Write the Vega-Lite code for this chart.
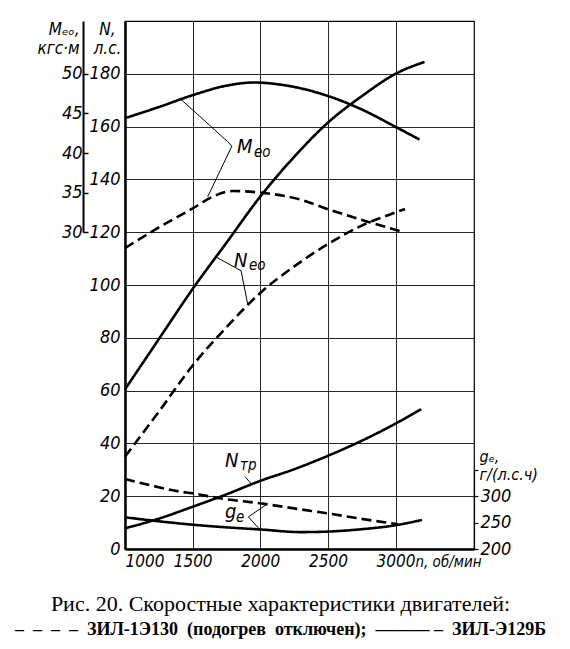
{
  "$schema": "https://vega.github.io/schema/vega-lite/v6.json",
  "width": 349,
  "height": 528,
  "autosize": {"type": "none"},
  "padding": {"left": 125, "top": 21, "right": 96, "bottom": 100},
  "background": "white",
  "config": {
    "view": {"stroke": "black", "strokeWidth": 1.2},
    "font": "Liberation Sans Narrow, DejaVu Sans Condensed, Liberation Sans, sans-serif"
  },
  "title": {
    "text": "Рис. 20. Скоростные характеристики двигателей:",
    "subtitle": "–\u00a0\u00a0–\u00a0\u00a0–\u00a0\u00a0–\u00a0\u00a0ЗИЛ-1Э130\u00a0\u00a0(подогрев\u00a0\u00a0отключен);\u00a0\u00a0———\u00a0–\u00a0\u00a0ЗИЛ-Э129Б",
    "orient": "bottom",
    "anchor": "middle",
    "offset": 25,
    "dx": -19,
    "font": "Liberation Serif",
    "fontSize": 22,
    "fontWeight": "normal",
    "color": "black",
    "subtitleFont": "Liberation Serif",
    "subtitleFontSize": 18,
    "subtitleFontWeight": "bold",
    "subtitleColor": "black",
    "subtitlePadding": 5
  },
  "datasets": {
    "power": [
      {"curve": "Neo", "engine": "ЗИЛ-Э129Б", "n": 1000, "N": 60.5},
      {"curve": "Neo", "engine": "ЗИЛ-Э129Б", "n": 1250, "N": 79.5},
      {"curve": "Neo", "engine": "ЗИЛ-Э129Б", "n": 1500, "N": 98.5},
      {"curve": "Neo", "engine": "ЗИЛ-Э129Б", "n": 1750, "N": 116},
      {"curve": "Neo", "engine": "ЗИЛ-Э129Б", "n": 2000, "N": 133.5},
      {"curve": "Neo", "engine": "ЗИЛ-Э129Б", "n": 2250, "N": 148.5},
      {"curve": "Neo", "engine": "ЗИЛ-Э129Б", "n": 2500, "N": 161.5},
      {"curve": "Neo", "engine": "ЗИЛ-Э129Б", "n": 2750, "N": 171.5},
      {"curve": "Neo", "engine": "ЗИЛ-Э129Б", "n": 3000, "N": 180},
      {"curve": "Neo", "engine": "ЗИЛ-Э129Б", "n": 3214, "N": 184.5},
      {"curve": "Neo130", "engine": "ЗИЛ-1Э130", "n": 1000, "N": 35},
      {"curve": "Neo130", "engine": "ЗИЛ-1Э130", "n": 1250, "N": 52},
      {"curve": "Neo130", "engine": "ЗИЛ-1Э130", "n": 1500, "N": 69.5},
      {"curve": "Neo130", "engine": "ЗИЛ-1Э130", "n": 1750, "N": 84},
      {"curve": "Neo130", "engine": "ЗИЛ-1Э130", "n": 2000, "N": 97},
      {"curve": "Neo130", "engine": "ЗИЛ-1Э130", "n": 2250, "N": 107},
      {"curve": "Neo130", "engine": "ЗИЛ-1Э130", "n": 2500, "N": 115.5},
      {"curve": "Neo130", "engine": "ЗИЛ-1Э130", "n": 2750, "N": 122.5},
      {"curve": "Neo130", "engine": "ЗИЛ-1Э130", "n": 3000, "N": 127.5},
      {"curve": "Neo130", "engine": "ЗИЛ-1Э130", "n": 3070, "N": 128.8},
      {"curve": "Ntr", "engine": "ЗИЛ-Э129Б", "n": 1000, "N": 7.8},
      {"curve": "Ntr", "engine": "ЗИЛ-Э129Б", "n": 1250, "N": 11.5},
      {"curve": "Ntr", "engine": "ЗИЛ-Э129Б", "n": 1500, "N": 16},
      {"curve": "Ntr", "engine": "ЗИЛ-Э129Б", "n": 1750, "N": 20.7},
      {"curve": "Ntr", "engine": "ЗИЛ-Э129Б", "n": 2000, "N": 25.8},
      {"curve": "Ntr", "engine": "ЗИЛ-Э129Б", "n": 2250, "N": 30.2},
      {"curve": "Ntr", "engine": "ЗИЛ-Э129Б", "n": 2500, "N": 35.3},
      {"curve": "Ntr", "engine": "ЗИЛ-Э129Б", "n": 2750, "N": 41},
      {"curve": "Ntr", "engine": "ЗИЛ-Э129Б", "n": 3000, "N": 47.5},
      {"curve": "Ntr", "engine": "ЗИЛ-Э129Б", "n": 3190, "N": 53}
    ],
    "torque": [
      {"curve": "Meo", "engine": "ЗИЛ-Э129Б", "n": 1000, "M": 44.4},
      {"curve": "Meo", "engine": "ЗИЛ-Э129Б", "n": 1250, "M": 45.8},
      {"curve": "Meo", "engine": "ЗИЛ-Э129Б", "n": 1500, "M": 47.3},
      {"curve": "Meo", "engine": "ЗИЛ-Э129Б", "n": 1750, "M": 48.5},
      {"curve": "Meo", "engine": "ЗИЛ-Э129Б", "n": 1950, "M": 48.9},
      {"curve": "Meo", "engine": "ЗИЛ-Э129Б", "n": 2200, "M": 48.5},
      {"curve": "Meo", "engine": "ЗИЛ-Э129Б", "n": 2500, "M": 47.2},
      {"curve": "Meo", "engine": "ЗИЛ-Э129Б", "n": 2750, "M": 45.5},
      {"curve": "Meo", "engine": "ЗИЛ-Э129Б", "n": 3000, "M": 43.3},
      {"curve": "Meo", "engine": "ЗИЛ-Э129Б", "n": 3177, "M": 41.7},
      {"curve": "Meo130", "engine": "ЗИЛ-1Э130", "n": 1000, "M": 28.0},
      {"curve": "Meo130", "engine": "ЗИЛ-1Э130", "n": 1250, "M": 30.6},
      {"curve": "Meo130", "engine": "ЗИЛ-1Э130", "n": 1500, "M": 33.0},
      {"curve": "Meo130", "engine": "ЗИЛ-1Э130", "n": 1650, "M": 34.5},
      {"curve": "Meo130", "engine": "ЗИЛ-1Э130", "n": 1800, "M": 35.2},
      {"curve": "Meo130", "engine": "ЗИЛ-1Э130", "n": 2000, "M": 35.0},
      {"curve": "Meo130", "engine": "ЗИЛ-1Э130", "n": 2300, "M": 34.1},
      {"curve": "Meo130", "engine": "ЗИЛ-1Э130", "n": 2500, "M": 32.9},
      {"curve": "Meo130", "engine": "ЗИЛ-1Э130", "n": 2800, "M": 31.3},
      {"curve": "Meo130", "engine": "ЗИЛ-1Э130", "n": 3060, "M": 30.0}
    ],
    "fuel": [
      {"curve": "ge", "engine": "ЗИЛ-Э129Б", "n": 1000, "g": 260},
      {"curve": "ge", "engine": "ЗИЛ-Э129Б", "n": 1250, "g": 252.5},
      {"curve": "ge", "engine": "ЗИЛ-Э129Б", "n": 1500, "g": 246},
      {"curve": "ge", "engine": "ЗИЛ-Э129Б", "n": 1750, "g": 241},
      {"curve": "ge", "engine": "ЗИЛ-Э129Б", "n": 2000, "g": 237},
      {"curve": "ge", "engine": "ЗИЛ-Э129Б", "n": 2300, "g": 232},
      {"curve": "ge", "engine": "ЗИЛ-Э129Б", "n": 2500, "g": 233},
      {"curve": "ge", "engine": "ЗИЛ-Э129Б", "n": 2750, "g": 237.5},
      {"curve": "ge", "engine": "ЗИЛ-Э129Б", "n": 3000, "g": 245},
      {"curve": "ge", "engine": "ЗИЛ-Э129Б", "n": 3195, "g": 255},
      {"curve": "ge130", "engine": "ЗИЛ-1Э130", "n": 1000, "g": 332.5},
      {"curve": "ge130", "engine": "ЗИЛ-1Э130", "n": 1200, "g": 320},
      {"curve": "ge130", "engine": "ЗИЛ-1Э130", "n": 1400, "g": 309},
      {"curve": "ge130", "engine": "ЗИЛ-1Э130", "n": 1500, "g": 305.5},
      {"curve": "ge130", "engine": "ЗИЛ-1Э130", "n": 1700, "g": 296},
      {"curve": "ge130", "engine": "ЗИЛ-1Э130", "n": 2000, "g": 286.5},
      {"curve": "ge130", "engine": "ЗИЛ-1Э130", "n": 2300, "g": 275},
      {"curve": "ge130", "engine": "ЗИЛ-1Э130", "n": 2500, "g": 267.5},
      {"curve": "ge130", "engine": "ЗИЛ-1Э130", "n": 2750, "g": 257},
      {"curve": "ge130", "engine": "ЗИЛ-1Э130", "n": 3020, "g": 247}
    ],
    "leaders": [
      {"leader": "M", "i": 1, "n": 1414, "N": 170.3},
      {"leader": "M", "i": 2, "n": 1759, "N": 154.3},
      {"leader": "M", "i": 3, "n": 1790, "N": 152.6},
      {"leader": "M", "i": 4, "n": 1611, "N": 133.4},
      {"leader": "Neo", "i": 1, "n": 1673, "N": 110.6},
      {"leader": "Neo", "i": 2, "n": 1858, "N": 105.4},
      {"leader": "Neo", "i": 3, "n": 1908, "N": 92.5},
      {"leader": "Ntr", "i": 1, "n": 1888, "N": 27.4},
      {"leader": "Ntr", "i": 2, "n": 1937, "N": 24.4},
      {"leader": "ge", "i": 1, "n": 2048, "N": 16.9},
      {"leader": "ge", "i": 2, "n": 1912, "N": 12.2},
      {"leader": "ge", "i": 3, "n": 1998, "N": 7.3}
    ],
    "labels": [
      {"part": "main", "text": "M", "n": 1828, "N": 150},
      {"part": "sub", "text": "ео", "n": 1954, "N": 148.6},
      {"part": "main", "text": "N", "n": 1806, "N": 106.8},
      {"part": "sub", "text": "ео", "n": 1917, "N": 105.8},
      {"part": "main", "text": "N", "n": 1740, "N": 31.1},
      {"part": "sub", "text": "тр", "n": 1851, "N": 30.0},
      {"part": "main", "text": "g", "n": 1740, "N": 11.6},
      {"part": "sub", "text": "e", "n": 1821, "N": 10.4}
    ]
  },
  "encoding": {
    "x": {
      "field": "n",
      "type": "quantitative",
      "scale": {"domain": [1000, 3580], "nice": false, "zero": false},
      "axis": {
        "values": [1000, 1500, 2000, 2500, 3000],
        "format": "d",
        "labelOverlap": false,
        "grid": true,
        "gridColor": "black",
        "gridWidth": 1,
        "gridOpacity": 0.85,
        "tickSize": 0,
        "labelPadding": 4,
        "labelFontSize": 17,
        "labelFontStyle": "italic",
        "labelColor": "black",
        "labelAlign": {"condition": {"test": "datum.value === 1000", "value": "left"}, "value": "center"},
        "labelDx": -6,
        "domainColor": "black",
        "domainWidth": 2.5,
        "title": "n, об/мин",
        "titleX": 290,
        "titleY": 5,
        "titleAlign": "left",
        "titleBaseline": "top",
        "titleFontSize": 15,
        "titleFontStyle": "italic",
        "titleFontWeight": "normal",
        "titleColor": "black"
      }
    }
  },
  "layer": [
    {
      "layer": [
        {
          "data": {"name": "power"},
          "mark": {"type": "line", "color": "black", "strokeWidth": 2.6, "interpolate": "monotone"},
          "encoding": {
            "y": {
              "field": "N",
              "type": "quantitative",
              "scale": {"domain": [0, 200], "nice": false},
              "axis": {
                "values": [0, 20, 40, 60, 80, 100, 120, 140, 160, 180],
                "labelOverlap": false,
                "grid": true,
                "gridColor": "black",
                "gridWidth": 1,
                "gridOpacity": 0.85,
                "tickSize": 0,
                "labelPadding": 5,
                "labelFontSize": 18,
                "labelFontStyle": "italic",
                "labelColor": "black",
                "labelDy": 2,
                "domainColor": "black",
                "domainWidth": 2.5,
                "title": ["N,", "л.с."],
                "titleAngle": 0,
                "titleAlign": "center",
                "titleBaseline": "top",
                "titleX": -18,
                "titleY": 0,
                "titleFontSize": 17,
                "titleFontStyle": "italic",
                "titleFontWeight": "normal",
                "titleColor": "black",
                "titleLineHeight": 19
              }
            },
            "detail": {"field": "curve"},
            "strokeDash": {
              "field": "engine",
              "type": "nominal",
              "scale": {"domain": ["ЗИЛ-Э129Б", "ЗИЛ-1Э130"], "range": [[1, 0], [10, 5]]},
              "legend": null
            }
          }
        },
        {
          "data": {"name": "leaders"},
          "mark": {"type": "line", "color": "black", "strokeWidth": 1},
          "encoding": {
            "y": {"field": "N", "type": "quantitative"},
            "detail": {"field": "leader"},
            "order": {"field": "i"}
          }
        },
        {
          "data": {"name": "labels"},
          "transform": [{"filter": "datum.part === 'main'"}],
          "mark": {"type": "text", "align": "left", "baseline": "alphabetic", "fontSize": 20, "fontStyle": "italic", "color": "black"},
          "encoding": {
            "y": {"field": "N", "type": "quantitative"},
            "text": {"field": "text"}
          }
        },
        {
          "data": {"name": "labels"},
          "transform": [{"filter": "datum.part === 'sub'"}],
          "mark": {"type": "text", "align": "left", "baseline": "alphabetic", "fontSize": 15, "fontStyle": "italic", "color": "black"},
          "encoding": {
            "y": {"field": "N", "type": "quantitative"},
            "text": {"field": "text"}
          }
        }
      ]
    },
    {
      "data": {"name": "torque"},
      "mark": {"type": "line", "color": "black", "strokeWidth": 2.6, "interpolate": "monotone"},
      "encoding": {
        "y": {
          "field": "M",
          "type": "quantitative",
          "scale": {"domain": [30, 56.667], "range": [211.2, 0], "nice": false, "zero": false},
          "axis": {
            "orient": "left",
            "offset": 42,
            "values": [30, 35, 40, 45, 50],
            "labelOverlap": false,
            "grid": false,
            "tickSize": -5,
            "tickColor": "black",
            "tickWidth": 1.5,
            "labelPadding": 6,
            "labelFontSize": 18,
            "labelFontStyle": "italic",
            "labelColor": "black",
            "labelDy": 3,
            "domainColor": "black",
            "domainWidth": 2,
            "title": ["Mₑₒ,", "кгс·м"],
            "titleAngle": 0,
            "titleAlign": "right",
            "titleBaseline": "top",
            "titleX": -4,
            "titleY": 0,
            "titleFontSize": 17,
            "titleFontStyle": "italic",
            "titleFontWeight": "normal",
            "titleColor": "black",
            "titleLineHeight": 19
          }
        },
        "detail": {"field": "curve"},
        "strokeDash": {
          "field": "engine",
          "type": "nominal",
          "scale": {"domain": ["ЗИЛ-Э129Б", "ЗИЛ-1Э130"], "range": [[1, 0], [10, 5]]},
          "legend": null
        }
      }
    },
    {
      "data": {"name": "fuel"},
      "mark": {"type": "line", "color": "black", "strokeWidth": 2.6, "interpolate": "monotone"},
      "encoding": {
        "y": {
          "field": "g",
          "type": "quantitative",
          "scale": {"domain": [200, 350], "range": [528, 448.8], "nice": false, "zero": false},
          "axis": {
            "orient": "right",
            "values": [200, 250, 300, 350],
            "labelExpr": "datum.value === 350 ? '' : datum.label",
            "labelOverlap": false,
            "grid": false,
            "tickSize": 4,
            "tickColor": "black",
            "tickWidth": 1.2,
            "labelPadding": 2,
            "labelFontSize": 18,
            "labelFontStyle": "italic",
            "labelColor": "black",
            "labelDy": 2,
            "domainColor": "black",
            "domainWidth": 1.2,
            "title": ["gₑ,", "г/(л.с.ч)"],
            "titleAngle": 0,
            "titleAlign": "left",
            "titleBaseline": "top",
            "titleX": 5,
            "titleY": 427,
            "titleFontSize": 16,
            "titleFontStyle": "italic",
            "titleFontWeight": "normal",
            "titleColor": "black",
            "titleLineHeight": 18
          }
        },
        "detail": {"field": "curve"},
        "strokeDash": {
          "field": "engine",
          "type": "nominal",
          "scale": {"domain": ["ЗИЛ-Э129Б", "ЗИЛ-1Э130"], "range": [[1, 0], [10, 5]]},
          "legend": null
        }
      }
    }
  ],
  "resolve": {"scale": {"y": "independent"}}
}
